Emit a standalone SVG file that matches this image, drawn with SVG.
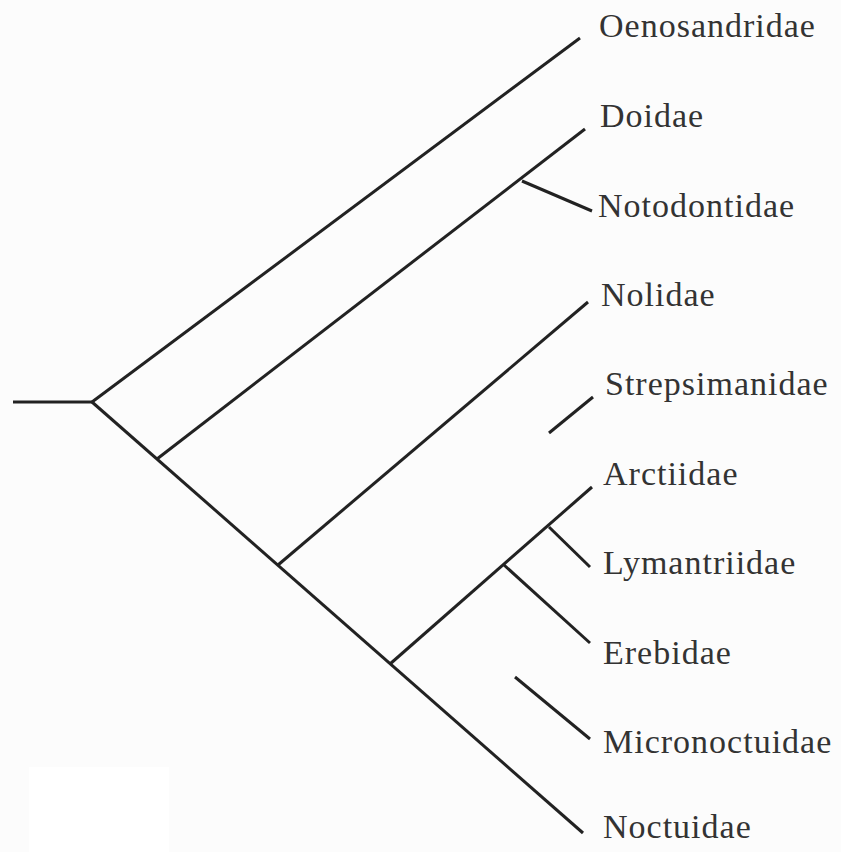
<svg xmlns="http://www.w3.org/2000/svg" width="841" height="852" viewBox="0 0 841 852">
<style>
.e{stroke:#222;stroke-width:3;stroke-linecap:butt;fill:none}
.t{font-family:"Liberation Serif","Times New Roman",serif;font-size:34px;letter-spacing:1px;fill:#333}
</style>
<rect width="841" height="852" fill="#fcfcfc"/>
<rect x="29" y="767" width="140" height="85" fill="#ffffff"/>
<g id="connectors">
<line class="e" x1="13" y1="402" x2="92" y2="402"/>
<line class="e" x1="92" y1="402" x2="580" y2="38"/>
<line class="e" x1="92" y1="402" x2="583" y2="833"/>
<line class="e" x1="157" y1="459" x2="585" y2="129"/>
<line class="e" x1="522" y1="181" x2="592" y2="211"/>
<line class="e" x1="278" y1="565" x2="588" y2="302"/>
<line class="e" x1="549" y1="433" x2="593" y2="397"/>
<line class="e" x1="390" y1="664" x2="592" y2="487"/>
<line class="e" x1="504" y1="565" x2="590" y2="643"/>
<line class="e" x1="549" y1="527" x2="590" y2="567"/>
<line class="e" x1="515" y1="677" x2="590" y2="739"/>
</g>
<g id="n-oenosandridae"><text class="t" x="599" y="37">Oenosandridae</text></g>
<g id="n-doidae"><text class="t" x="600" y="127">Doidae</text></g>
<g id="n-notodontidae"><text class="t" x="598" y="217">Notodontidae</text></g>
<g id="n-nolidae"><text class="t" x="601" y="306">Nolidae</text></g>
<g id="n-strepsimanidae"><text class="t" x="605" y="395">Strepsimanidae</text></g>
<g id="n-arctiidae"><text class="t" x="603" y="485">Arctiidae</text></g>
<g id="n-lymantriidae"><text class="t" x="603" y="574">Lymantriidae</text></g>
<g id="n-erebidae"><text class="t" x="603" y="664">Erebidae</text></g>
<g id="n-micronoctuidae"><text class="t" x="603" y="753">Micronoctuidae</text></g>
<g id="n-noctuidae"><text class="t" x="603" y="838">Noctuidae</text></g>
</svg>
